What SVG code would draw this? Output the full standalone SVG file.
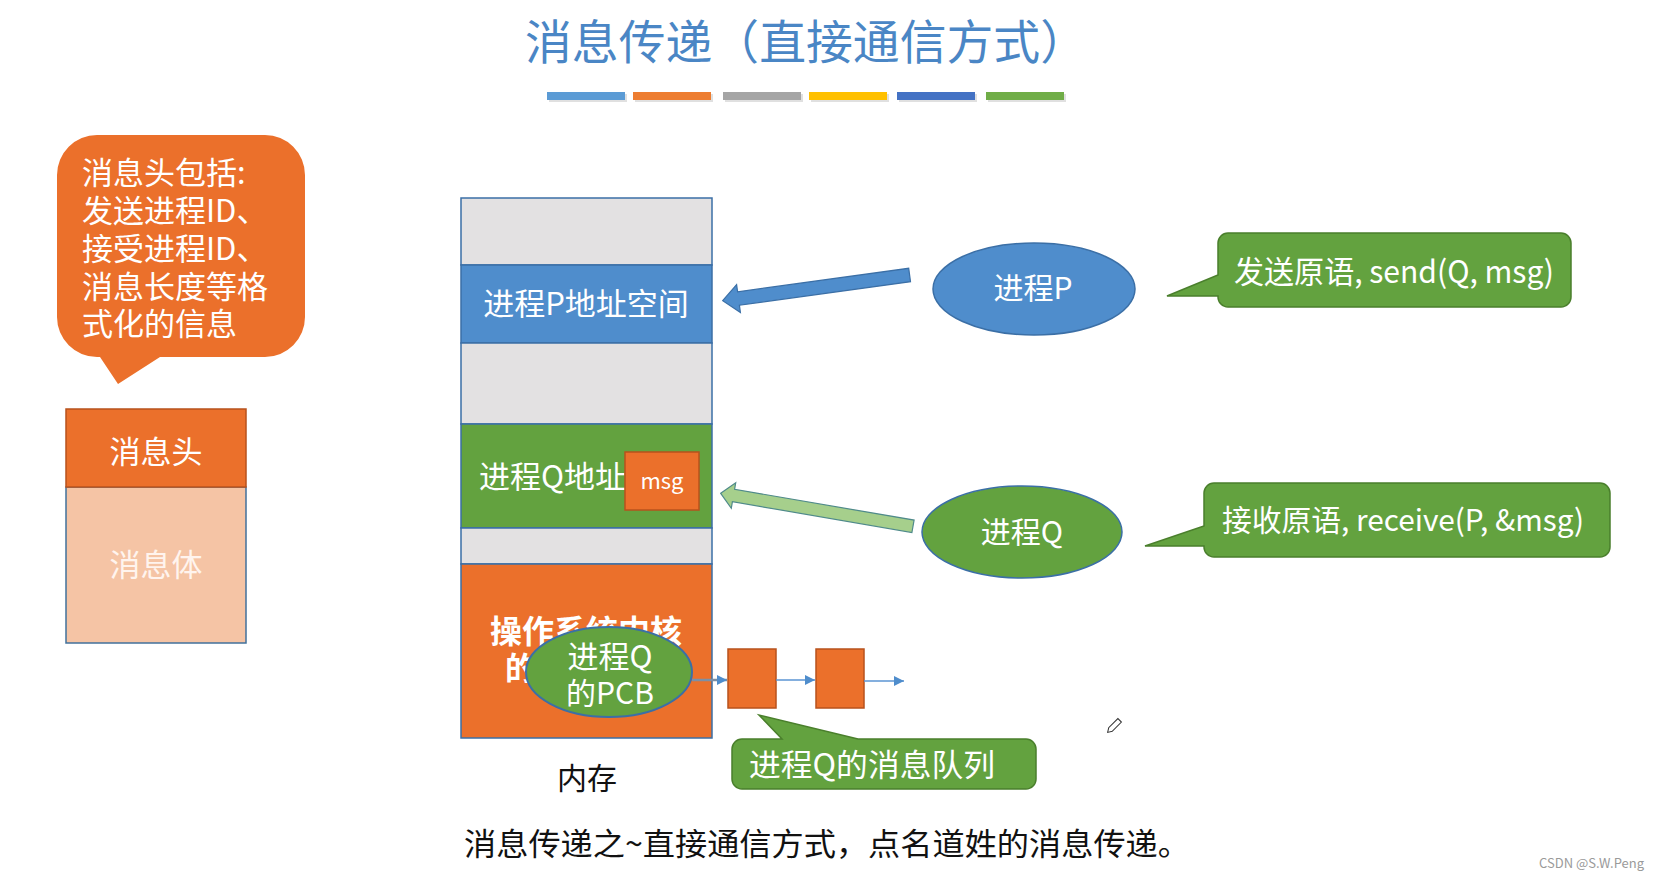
<svg xmlns="http://www.w3.org/2000/svg" width="1661" height="880" viewBox="0 0 1661 880">
<defs>
<style>
text{font-family:"Noto Sans CJK SC","Noto Sans",sans-serif;}
.w{fill:#ffffff;}
.k{fill:#111111;}
.gray{fill:#e3e1e2;stroke:#3b6fa6;stroke-width:1.5;}
.blue{fill:#4f8dcc;stroke:#3b6fa6;stroke-width:1.5;}
.green{fill:#63a23f;stroke:#3b6fa6;stroke-width:1.5;}
.orange{fill:#eb702b;stroke:#3b6fa6;stroke-width:1.5;}
.qbox{fill:#eb702b;stroke:#b8521d;stroke-width:1.5;}
.callg{fill:#63a23f;stroke:#4a7f2c;stroke-width:1.5;}
.ql{stroke:#5b95d3;stroke-width:1.5;fill:none;}
</style>
<marker id="ah" viewBox="0 0 10 10" refX="10" refY="5" markerWidth="10" markerHeight="10" markerUnits="userSpaceOnUse" orient="auto">
<path d="M0,0 L10,5 L0,10 Z" fill="#4f8dcc"/>
</marker>
</defs>
<rect width="1661" height="880" fill="#ffffff"/>

<g id="title">
<text x="525" y="59" font-size="47" fill="#4a86c5" textLength="562" lengthAdjust="spacingAndGlyphs">消息传递（直接通信方式）</text>
<rect x="549" y="94" width="78" height="8" fill="#000" opacity="0.12"/>
<rect x="547" y="92" width="78" height="8" fill="#5b9bd5"/>
<rect x="635" y="94" width="78" height="8" fill="#000" opacity="0.12"/>
<rect x="633" y="92" width="78" height="8" fill="#ed7d31"/>
<rect x="725" y="94" width="78" height="8" fill="#000" opacity="0.12"/>
<rect x="723" y="92" width="78" height="8" fill="#a5a5a5"/>
<rect x="811" y="94" width="78" height="8" fill="#000" opacity="0.12"/>
<rect x="809" y="92" width="78" height="8" fill="#ffc000"/>
<rect x="899" y="94" width="78" height="8" fill="#000" opacity="0.12"/>
<rect x="897" y="92" width="78" height="8" fill="#4472c4"/>
<rect x="988" y="94" width="78" height="8" fill="#000" opacity="0.12"/>
<rect x="986" y="92" width="78" height="8" fill="#70ad47"/>
</g>

<g id="header-callout">
<path d="M97,135 H265 A40,40 0 0 1 305,175 V317 A40,40 0 0 1 265,357 H160 L118,384 L100,357 H97 A40,40 0 0 1 57,317 V175 A40,40 0 0 1 97,135 Z" fill="#eb702b"/>
<text class="w" x="82" font-size="31"><tspan x="82" y="184">消息头包括:</tspan><tspan x="82" y="222">发送进程ID、</tspan><tspan x="82" y="260">接受进程ID、</tspan><tspan x="82" y="298">消息长度等格</tspan><tspan x="82" y="335">式化的信息</tspan></text>
</g>

<g id="message">
<rect x="66" y="487" width="180" height="156" fill="#f5c4a5" stroke="#41719c" stroke-width="1.5"/>
<rect x="66" y="409" width="180" height="78" fill="#eb702b" stroke="#b8521d" stroke-width="1.5"/>
<text class="w" x="156" y="463" font-size="31" text-anchor="middle">消息头</text>
<text x="156" y="576" font-size="31" text-anchor="middle" fill="#fff4ee">消息体</text>
</g>

<g id="memory">
<rect class="gray" x="461" y="198" width="251" height="67"/>
<rect class="blue" x="461" y="265" width="251" height="78"/>
<rect class="gray" x="461" y="343" width="251" height="81"/>
<rect class="green" x="461" y="424" width="251" height="104"/>
<rect class="gray" x="461" y="528" width="251" height="36"/>
<rect class="orange" x="461" y="564" width="251" height="174"/>
<text class="w" x="586" y="315" font-size="31" text-anchor="middle">进程P地址空间</text>
<text class="w" x="479" y="488" font-size="31">进程Q地址</text>
<text class="w" x="586" y="643" font-size="32" font-weight="bold" text-anchor="middle">操作系统内核</text>
<text class="w" x="505" y="680" font-size="32" font-weight="bold">的</text>
<text class="k" x="587" y="789" font-size="30" text-anchor="middle">内存</text>
</g>

<g id="msg">
<rect x="625" y="452" width="74" height="58" fill="#eb702b" stroke="#b8521d" stroke-width="1.5"/>
<text class="w" x="662" y="489" font-size="22" text-anchor="middle">msg</text>
</g>

<g id="pcb">
<ellipse cx="609" cy="672" rx="83" ry="45" fill="#63a23f" stroke="#3b6fa6" stroke-width="2"/>
<text class="w" x="610" y="668" font-size="31" text-anchor="middle">进程Q</text>
<text class="w" x="610" y="704" font-size="30" text-anchor="middle">的PCB</text>
</g>

<g id="queue1"><rect class="qbox" x="728" y="649" width="48" height="59"/></g>
<g id="queue2"><rect class="qbox" x="816" y="649" width="48" height="59"/></g>

<g id="queue-callout">
<path d="M742,739 H782 L759,715 L858,739 H1026 A10,10 0 0 1 1036,749 V779 A10,10 0 0 1 1026,789 H742 A10,10 0 0 1 732,779 V749 A10,10 0 0 1 742,739 Z" class="callg"/>
<text class="w" x="749" y="776" font-size="31" textLength="246" lengthAdjust="spacingAndGlyphs">进程Q的消息队列</text>
</g>

<g id="procP">
<ellipse cx="1034" cy="289" rx="101" ry="46" fill="#4f8dcc" stroke="#3b6fa6" stroke-width="1.5"/>
<text class="w" x="1033" y="299" font-size="30" text-anchor="middle">进程P</text>
</g>

<g id="procQ">
<ellipse cx="1022" cy="532" rx="100" ry="46" fill="#63a23f" stroke="#3b6fa6" stroke-width="1.5"/>
<text class="w" x="1022" y="543" font-size="30" text-anchor="middle">进程Q</text>
</g>

<g id="send-callout">
<path d="M1228,233 H1561 A10,10 0 0 1 1571,243 V297 A10,10 0 0 1 1561,307 H1228 A10,10 0 0 1 1218,297 V296 L1167,296 L1218,275 V243 A10,10 0 0 1 1228,233 Z" class="callg"/>
<text class="w" x="1234" y="283" font-size="31" textLength="320" lengthAdjust="spacingAndGlyphs">发送原语, send(Q, msg)</text>
</g>

<g id="receive-callout">
<path d="M1214,483 H1600 A10,10 0 0 1 1610,493 V547 A10,10 0 0 1 1600,557 H1214 A10,10 0 0 1 1204,547 V546 L1145,546 L1204,526 V493 A10,10 0 0 1 1214,483 Z" class="callg"/>
<text class="w" x="1222" y="531" font-size="30" textLength="362" lengthAdjust="spacingAndGlyphs">接收原语, receive(P, &amp;msg)</text>
</g>

<g id="connectors">
<polygon points="722.7,300.7 736.6,284.6 737.6,291.8 908.7,268.3 910.5,281.7 739.4,305.2 740.4,312.4" fill="#4f8dcc" stroke="#3b6fa6" stroke-width="1.2"/>
<polygon points="720.7,493.3 735.7,482.7 734.6,489.3 914.1,520.1 911.9,532.5 732.4,501.7 731.3,508.3" fill="#a6cf8c" stroke="#4f8a8a" stroke-width="1.2"/>
<line x1="692" y1="680" x2="727" y2="680" stroke="#7d8fa5" stroke-width="2.5" marker-end="url(#ah)"/>
<line class="ql" x1="776" y1="680" x2="815" y2="680" marker-end="url(#ah)"/>
<line class="ql" x1="864" y1="681" x2="904" y2="681" marker-end="url(#ah)"/>
</g>

<g id="pencil" transform="translate(1114,726) rotate(-45)">
<polygon points="-9,0 -5,-2.5 8,-2.5 8,2.5 -5,2.5" fill="#ffffff" stroke="#333333" stroke-width="1"/>
</g>

<text class="k" x="464" y="855" font-size="31" textLength="726" lengthAdjust="spacingAndGlyphs">消息传递之~直接通信方式，点名道姓的消息传递。</text>
<text x="1539" y="868" font-size="13" fill="#9a9a9a" font-family="Liberation Sans, sans-serif">CSDN @S.W.Peng</text>
</svg>
